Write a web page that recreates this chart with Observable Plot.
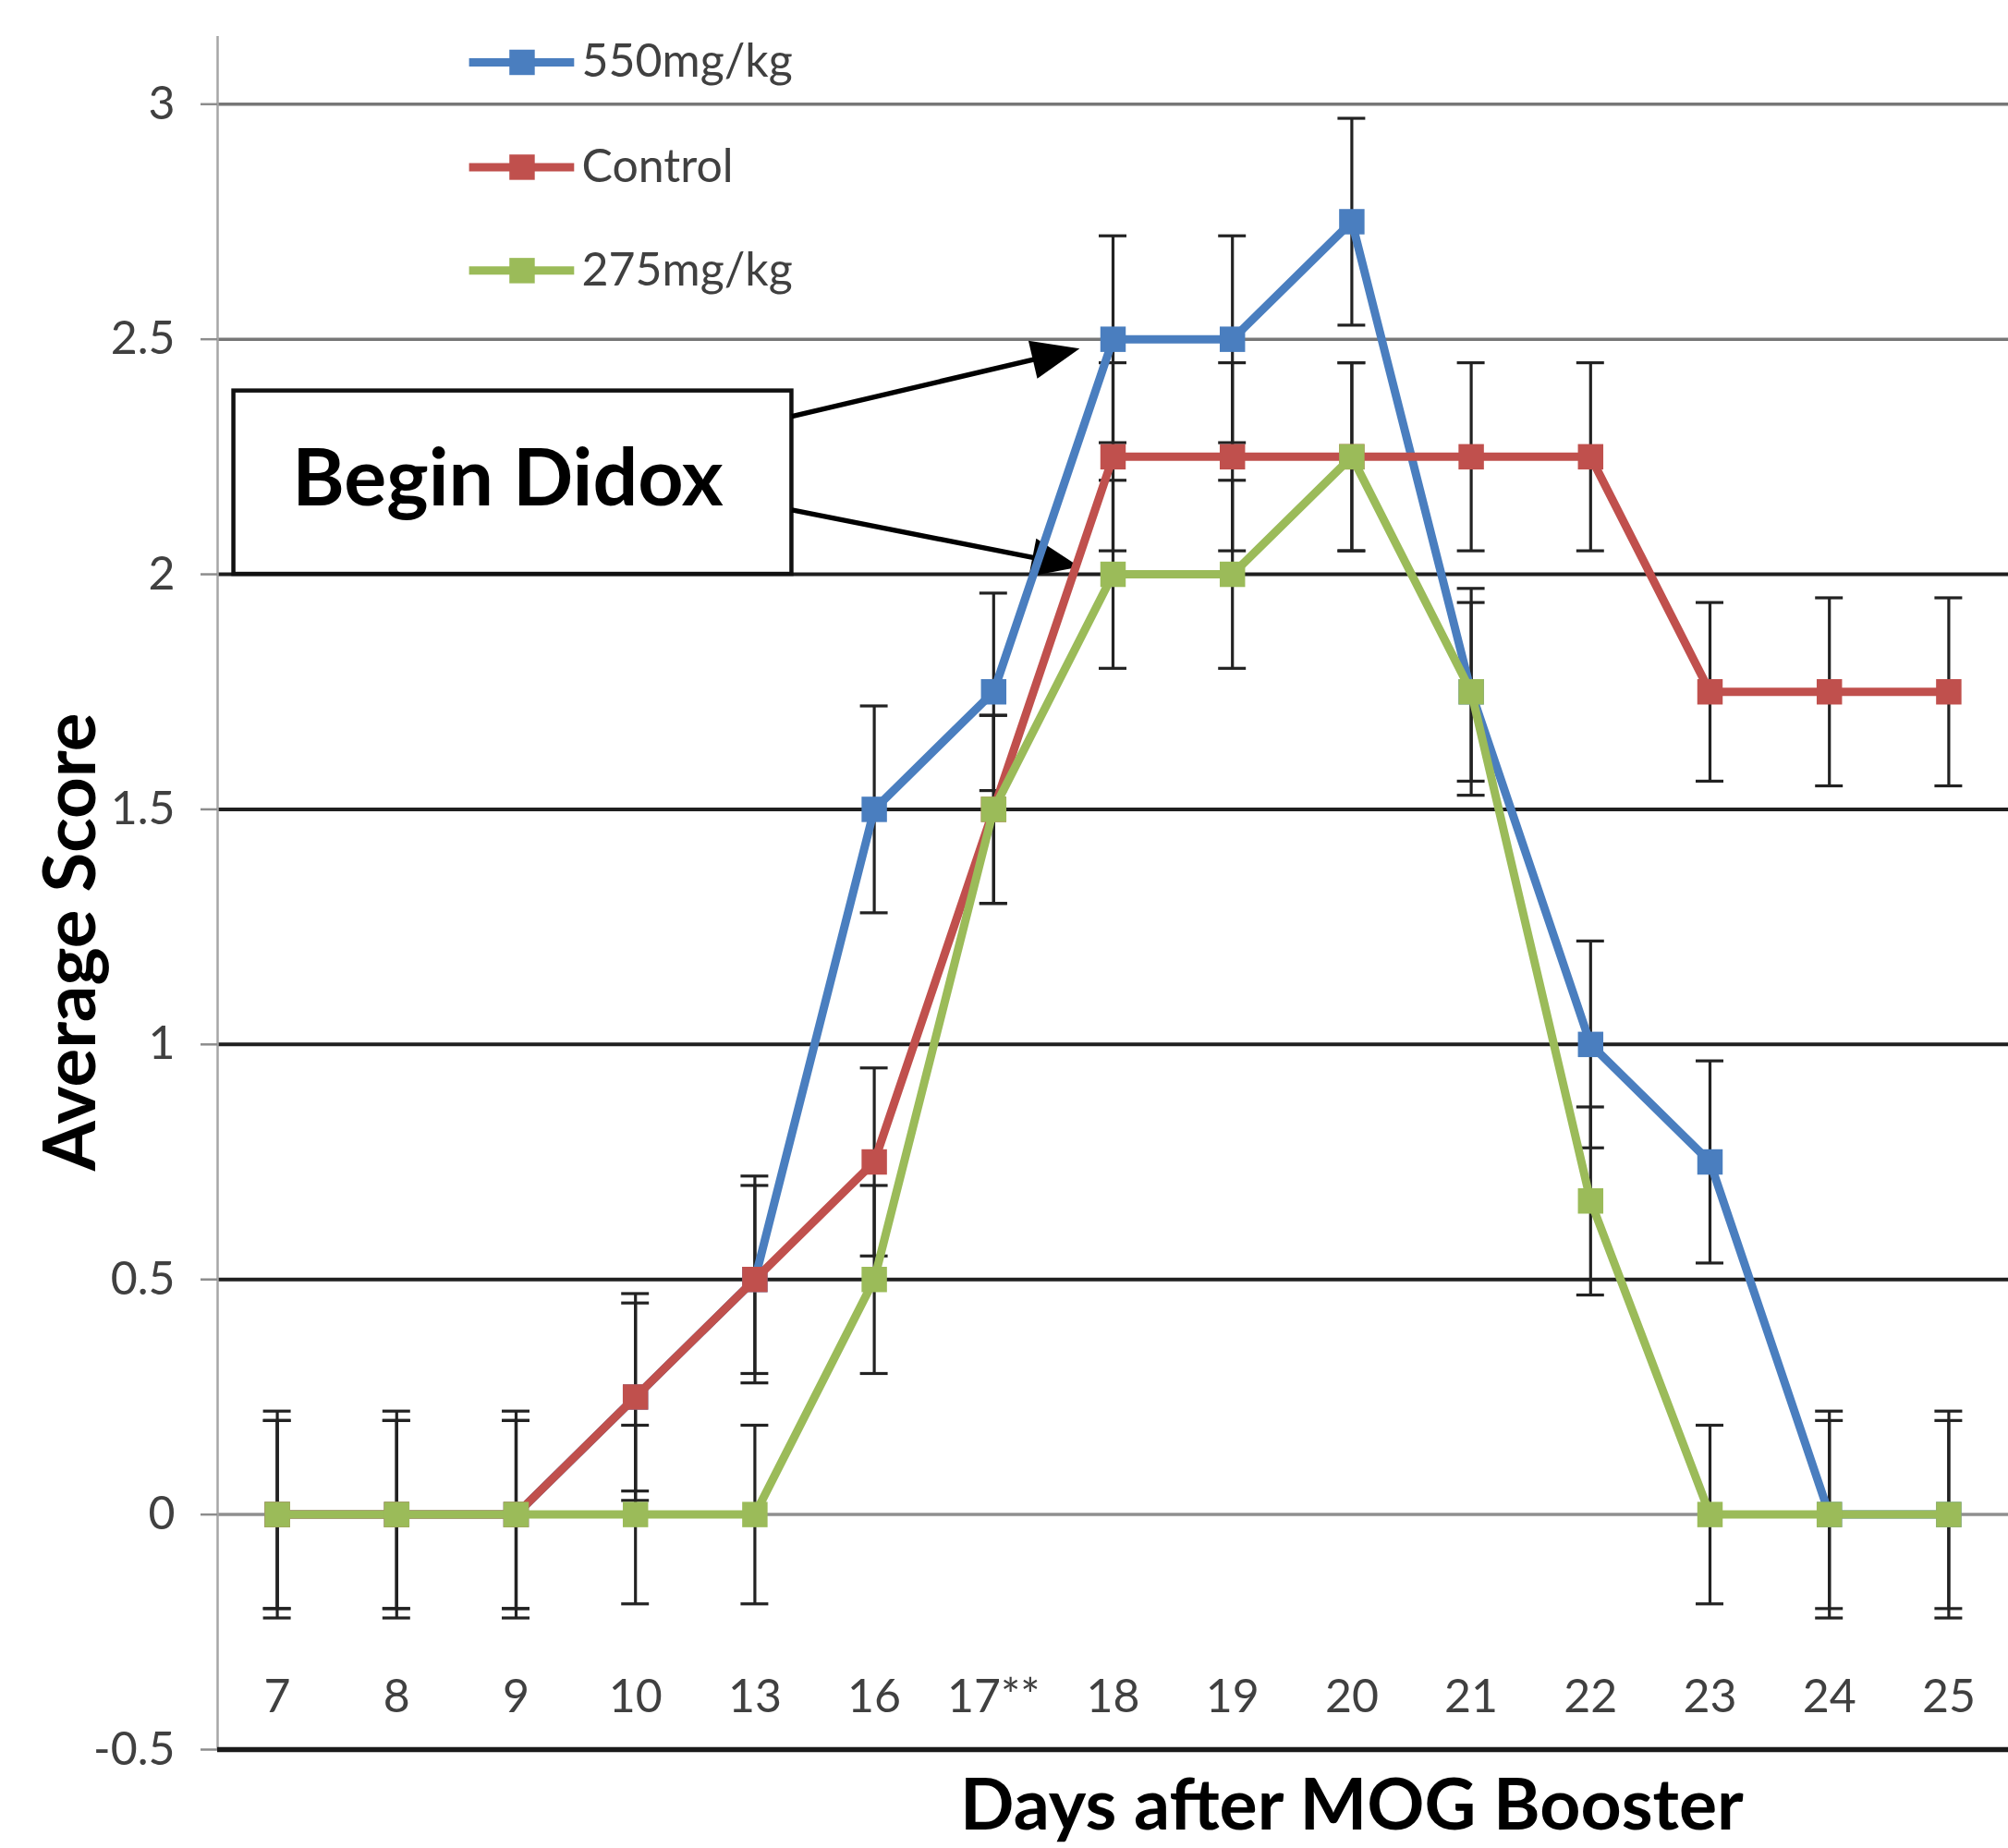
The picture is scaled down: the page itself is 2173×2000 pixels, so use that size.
<!DOCTYPE html>
<html><head><meta charset="utf-8">
<script src="https://cdn.jsdelivr.net/npm/d3@7"></script>
<script src="https://cdn.jsdelivr.net/npm/@observablehq/plot@0.6"></script>
<style>html,body{margin:0;padding:0;background:#fff;overflow:hidden}#chart svg{display:block}</style>
</head><body><div id="chart"></div>
<script>
// ---------- data ----------
const days = ["7","8","9","10","13","16","17**","18","19","20","21","22","23","24","25"];
const seriesNames = ["550mg/kg","Control","275mg/kg"];
const seriesColors = ["#4A7EBF","#C0504D","#9BBB59"];
const values550     = [0,0,0,0.25,0.5,1.5,1.75,2.5,2.5,2.75,1.75,1.0,0.75,0,0];
const err550        = [0.22,0.22,0.22,0.22,0.22,0.22,0.21,0.22,0.22,0.22,0.22,0.22,0.215,0.22,0.22];
const valuesControl = [0,0,0,0.25,0.5,0.75,1.5,2.25,2.25,2.25,2.25,2.25,1.75,1.75,1.75];
const errControl    = [0.2,0.2,0.2,0.2,0.2,0.2,0.2,0.2,0.2,0.2,0.2,0.2,0.19,0.2,0.2];
const values275     = [0,0,0,0,0,0.5,1.5,2.0,2.0,2.25,1.75,0.667,0,0,0];
const err275        = [0.2,0.2,0.2,0.19,0.19,0.2,0.2,0.2,0.2,0.2,0.19,0.2,0.19,0.2,0.2];
const yTicks = [-0.5,0,0.5,1,1.5,2,2.5,3];
const yTickLabels = ["-0.5","0","0.5","1","1.5","2","2.5","3"];
const annotationText = "Begin Didox";
const xTitle = "Days after MOG Booster";
const yTitle = "Average Score";

// ---------- layout ----------
const W = 2173, H = 2000;
const mL = 235, mR = 0, mT = 39, mB = 107;
const yMax = 3.144;
const xPx = (W - mL - mR) / days.length;
const yPx = (H - mT - mB) / (yMax + 0.5);
const capHalf = 0.116;
const gridColor = {"3":"#777777","2.5":"#777777","2":"#1f1f1f","1.5":"#1f1f1f","1":"#1f1f1f","0.5":"#1f1f1f","0":"#8f8f8f"};
const gridWidth = {"3":3.5,"2.5":3.5,"2":4,"1.5":4,"1":4,"0.5":4,"0":3.5};
const box = {x1: -0.364, x2: 4.31, y1: 2.0, y2: 2.39, tx: 1.93, ty: 2.2};
const arrows = [
  {x1: 4.31, y1: 2.336, x2: 6.72, y2: 2.48},
  {x1: 4.31, y1: 2.137, x2: 6.72, y2: 2.016}
];
const legendPos = {lx1: 1.61, lx2: 2.49, mx: 2.05, tx: 2.55, ys: [3.089, 2.866, 2.646]};
const yTitlePos = {x: -1.72, y: 1.218};
const xTitlePos = {x: 9.0, y: -0.5 - 86 / yPx};

const errs = [err550, errControl, err275];
const series = [values550, valuesControl, values275].map((vals, s) =>
  vals.map((v, i) => ({series: seriesNames[s], i, v, e: errs[s][i]})));

function headSymbol(angleDeg) {
  const a = angleDeg * Math.PI / 180, L = 52, w = 21;
  const c = Math.cos(a), s = Math.sin(a);
  const pt = (x, y) => [x * c - y * s, x * s + y * c];
  return {draw(ctx) {
    const p0 = pt(0, 0), p1 = pt(-L, -w), p2 = pt(-L, w);
    ctx.moveTo(p0[0], p0[1]); ctx.lineTo(p1[0], p1[1]); ctx.lineTo(p2[0], p2[1]); ctx.closePath();
  }};
}

const marks = [];
// gridlines
marks.push(Plot.ruleY(yTicks.filter(d => d >= 0), {y: d => d, stroke: d => gridColor[String(d)], strokeWidth: d => gridWidth[String(d)]}));
marks.push(Plot.ruleX([-0.5], {y1: -0.5, y2: yMax, stroke: "#a6a6a6", strokeWidth: 2.5}));
marks.push(Plot.ruleY([-0.5], {stroke: "#1a1a1a", strokeWidth: 5.5}));
marks.push(Plot.axisY({ticks: yTicks, tickFormat: d => yTickLabels[yTicks.indexOf(d)], tickSize: 18, tickPadding: 28,
  color: "#404040", stroke: "#8c8c8c", strokeWidth: 2.5, fontSize: 50, fontFamily: "Lato, sans-serif", label: null}));
// x tick labels (inside plot, above the bottom line)
marks.push(Plot.text(days, {x: (d, i) => i, text: d => d, frameAnchor: "bottom", dy: -57, lineAnchor: "middle",
  fontSize: 50, fontFamily: "Lato, sans-serif", fill: "#404040"}));
// annotation box
marks.push(Plot.rect([box], {x1: "x1", x2: "x2", y1: "y1", y2: "y2", fill: "white", stroke: "#111", strokeWidth: 4.5}));
marks.push(Plot.text([box], {x: "tx", y: "ty", text: () => annotationText, fontSize: 86, fontWeight: "bold",
  fontFamily: "Lato, sans-serif", fill: "#000", lineAnchor: "middle"}));
// arrows
arrows.forEach(a => {
  const ang = Math.atan2(-(a.y2 - a.y1) * yPx, (a.x2 - a.x1) * xPx) * 180 / Math.PI;
  marks.push(Plot.link([a], {x1: "x1", y1: "y1", x2: d => d.x1 + 0.85 * (d.x2 - d.x1), y2: d => d.y1 + 0.85 * (d.y2 - d.y1),
    stroke: "#000", strokeWidth: 5.5}));
  marks.push(Plot.dot([a], {x: "x2", y: "y2", symbol: headSymbol(ang), r: 10, fill: "#000", stroke: "none"}));
});
// error bars, lines and markers per series
series.forEach((rows, s) => {
  marks.push(Plot.ruleX(rows, {x: "i", y1: d => d.v - d.e, y2: d => d.v + d.e, stroke: "#222", strokeWidth: 3.2}));
  marks.push(Plot.ruleY(rows, {y: d => d.v + d.e, x1: d => d.i - capHalf, x2: d => d.i + capHalf, stroke: "#222", strokeWidth: 3.2}));
  marks.push(Plot.ruleY(rows, {y: d => d.v - d.e, x1: d => d.i - capHalf, x2: d => d.i + capHalf, stroke: "#222", strokeWidth: 3.2}));
});
series.forEach((rows, s) => {
  marks.push(Plot.line(rows, {x: "i", y: "v", stroke: seriesColors[s], strokeWidth: 9}));
  marks.push(Plot.dot(rows, {x: "i", y: "v", symbol: "square", r: 15.5, fill: seriesColors[s], stroke: "none"}));
});
// legend
seriesNames.forEach((name, s) => {
  const y = legendPos.ys[s];
  marks.push(Plot.ruleY([y], {x1: legendPos.lx1, x2: legendPos.lx2, stroke: seriesColors[s], strokeWidth: 9}));
  marks.push(Plot.dot([y], {x: legendPos.mx, y: d => d, symbol: "square", r: 15.5, fill: seriesColors[s], stroke: "none"}));
  marks.push(Plot.text([name], {x: legendPos.tx, y: () => y, text: d => d, textAnchor: "start", lineAnchor: "middle",
    fontSize: 50, fontFamily: "Lato, sans-serif", fill: "#404040"}));
});
// titles
marks.push(Plot.text([yTitlePos], {x: "x", y: "y", rotate: -90, text: () => yTitle, fontSize: 78,
  fontWeight: "bold", fontFamily: "Lato, sans-serif", fill: "#000", lineAnchor: "middle"}));
marks.push(Plot.text([xTitlePos], {x: "x", y: "y", text: () => xTitle, fontSize: 77,
  fontWeight: "bold", fontFamily: "Lato, sans-serif", fill: "#000", lineAnchor: "bottom"}));

const chart = Plot.plot({
  width: W, height: H,
  marginLeft: mL, marginRight: mR, marginTop: mT, marginBottom: mB,
  x: {domain: [-0.5, days.length - 0.5], axis: null},
  y: {domain: [-0.5, yMax], axis: null},
  clip: false,
  style: {fontFamily: "Lato, sans-serif", background: "white", overflow: "visible"},
  marks
});
document.getElementById("chart").appendChild(chart);
</script>
</body></html>
